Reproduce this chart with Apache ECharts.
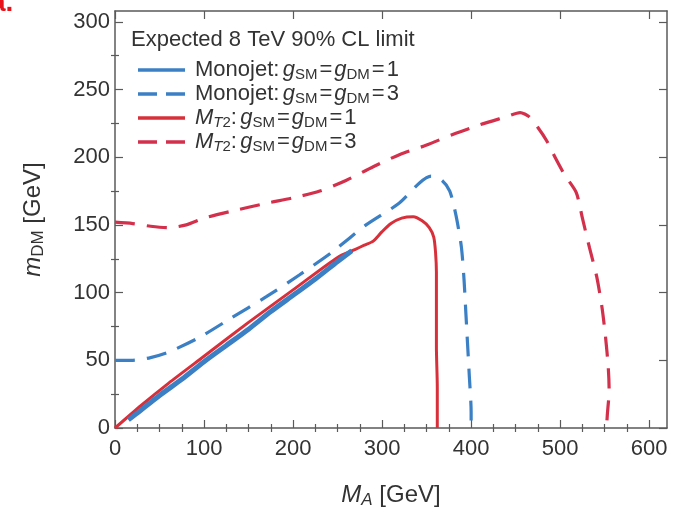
<!DOCTYPE html>
<html>
<head>
<meta charset="utf-8">
<script src="https://cdn.jsdelivr.net/npm/echarts@6/dist/echarts.min.js"></script>
<style>
html,body{margin:0;padding:0;background:#fff;}
#chart{width:676px;height:508px;}
</style>
</head>
<body>
<div id="chart"></div>
<script>
// ---- data (GeV) ----
const seriesNames = ['Monojet1', 'Monojet3', 'MT2_1', 'MT2_3'];
const seriesDashed = [false, true, false, true];
const monojet1 = [[15,6],[25,11],[50,24],[75,36],[100,49],[125,61],[150,73],[175,86],[200,98],[225,110],[250,123],[266,131]];
const monojet3 = [[0,50],[20,50],[40,52],[60,56],[95,67],[130,81],[170,97],[207,113],[244,130],[282,150],[319,166],[342,181],[355,186],[367,183],[376,175],[383,157],[389,134],[392,110],[394,86],[396,62],[398,38],[400,12],[400,0]];
const mt2_1 = [[0,0],[30,17],[60,33],[100,53],[150,78],[200,102],[250,126],[270,132],[280,135],[290,138],[300,145],[310,151],[322,155],[335,156],[345,153],[353,148],[358,141],[360,130],[361,115],[361,90],[361,60],[362,30],[362,0]];
const mt2_3 = [[0,152],[20,151],[40,149],[60,148],[80,150],[100,155],[130,160],[170,166],[200,170],[230,175],[260,183],[290,193],[320,202],[350,209],[380,217],[410,224],[440,230],[455,233],[465,230],[475,222],[485,212],[495,199],[505,187],[518,174],[525,155],[533,133],[541,112],[547,89],[551,67],[554,45],[555,28],[553,10],[552,0]];
const xMajor = [0,100,200,300,400,500,600];
const xMinor = [25,50,75,125,150,175,225,250,275,325,350,375,425,450,475,525,550,575];
const yMajor = [0,50,100,150,200,250,300];
const yMinor = [25,75,125,175,225,275];
const legendTitle = 'Expected 8 TeV 90% CL limit';
const legendLabels = {
  Monojet1: '{n|Monojet:} {i|g}{s|SM}{e|=}{i|g}{s|DM}{e|=}{n|1}',
  Monojet3: '{n|Monojet:} {i|g}{s|SM}{e|=}{i|g}{s|DM}{e|=}{n|3}',
  MT2_1: '{i|M}{si|T}{s|2}{n|:} {i|g}{s|SM}{e|=}{i|g}{s|DM}{e|=}{n|1}',
  MT2_3: '{i|M}{si|T}{s|2}{n|:} {i|g}{s|SM}{e|=}{i|g}{s|DM}{e|=}{n|3}'
};

const FONT = "'Liberation Sans', Arial, Helvetica, sans-serif";
const TXT = '#333';
const FRAME = '#5a5a5a';
const BLUE = '#3b7fc4';
const RED = '#d8303a';
const RED2 = '#d3304c';
const XMAX = 620, YMAX = 308;
const ICON_SOLID = 'path://M0,0H47V3.4H0Z';
const ICON_DASHED = 'path://M0,0H19V3.4H0ZM28,0H47V3.4H28Z';

const rich = {
  n: {fontSize: 22, fontFamily: FONT, color: TXT, lineHeight: 25, verticalAlign: 'middle'},
  i: {fontSize: 22, fontFamily: FONT, color: TXT, fontStyle: 'italic', lineHeight: 25, verticalAlign: 'middle'},
  e: {fontSize: 22, fontFamily: FONT, color: TXT, lineHeight: 25, verticalAlign: 'middle', padding: [0, 2, 0, 2]},
  s: {fontSize: 15, fontFamily: FONT, color: TXT, lineHeight: 14, verticalAlign: 'bottom'},
  si: {fontSize: 15, fontFamily: FONT, color: TXT, fontStyle: 'italic', lineHeight: 14, verticalAlign: 'bottom'}
};
const nameRich = {
  n: {fontSize: 24, fontFamily: FONT, color: TXT, lineHeight: 28, verticalAlign: 'middle'},
  i: {fontSize: 24, fontFamily: FONT, color: TXT, fontStyle: 'italic', lineHeight: 28, verticalAlign: 'middle'},
  s: {fontSize: 17, fontFamily: FONT, color: TXT, lineHeight: 16, verticalAlign: 'bottom'},
  si: {fontSize: 17, fontFamily: FONT, color: TXT, fontStyle: 'italic', lineHeight: 16, verticalAlign: 'bottom'}
};

function tickAxis(type, pos, values, len, opts) {
  return Object.assign({
    type: 'value', position: pos, min: 0, max: type === 'x' ? XMAX : YMAX,
    axisLine: {show: false},
    splitLine: {show: false},
    axisLabel: {show: false},
    axisTick: {show: true, inside: true, length: len, customValues: values, lineStyle: {color: FRAME, width: 1.2}}
  }, opts || {});
}

const xAxis = [
  {
    type: 'value', position: 'bottom', min: 0, max: XMAX,
    axisLine: {show: true, onZero: false, lineStyle: {color: FRAME, width: 1.5}},
    splitLine: {show: false},
    axisTick: {show: true, inside: true, length: 8, customValues: xMajor, lineStyle: {color: FRAME, width: 1.2}},
    axisLabel: {show: true, customValues: xMajor, margin: 10, fontSize: 22, fontFamily: FONT, color: TXT},
    name: '{i|M}{si|A}{n| [GeV]}', nameLocation: 'middle', nameGap: 53,
    nameTextStyle: {rich: nameRich}
  },
  tickAxis('x', 'bottom', xMinor, 4),
  tickAxis('x', 'top', xMajor, 8, {axisLine: {show: true, onZero: false, lineStyle: {color: FRAME, width: 1.5}}}),
  tickAxis('x', 'top', xMinor, 4)
];
const yAxis = [
  {
    type: 'value', position: 'left', min: 0, max: YMAX,
    axisLine: {show: true, onZero: false, lineStyle: {color: FRAME, width: 1.5}},
    splitLine: {show: false},
    axisTick: {show: true, inside: true, length: 8, customValues: yMajor, lineStyle: {color: FRAME, width: 1.2}},
    axisLabel: {show: true, customValues: yMajor, margin: 5, fontSize: 22, fontFamily: FONT, color: TXT},
    name: '{i|m}{s|DM}{n| [GeV]}', nameLocation: 'middle', nameGap: 68, nameRotate: 90,
    nameTextStyle: {rich: nameRich}
  },
  tickAxis('y', 'left', yMinor, 4),
  tickAxis('y', 'right', yMajor, 8, {axisLine: {show: true, onZero: false, lineStyle: {color: FRAME, width: 1.5}}}),
  tickAxis('y', 'right', yMinor, 4)
];

const chart = echarts.init(document.getElementById('chart'), null, {renderer: 'canvas'});
chart.setOption({
  animation: false,
  backgroundColor: '#ffffff',
  grid: {left: 115, right: 9, top: 11, bottom: 80, containLabel: false, outerBoundsMode: 'none'},
  title: {
    text: legendTitle, left: 131, top: 29, padding: 0,
    textStyle: {fontSize: 22, fontWeight: 'normal', fontFamily: FONT, color: TXT}
  },
  legend: {
    orient: 'vertical', left: 138, top: 59, padding: 0, itemGap: 0.5,
    itemWidth: 47, itemHeight: 3.4,
    data: seriesNames.map(function (n, k) {
      return {name: n, icon: seriesDashed[k] ? ICON_DASHED : ICON_SOLID};
    }),
    formatter: function (name) { return legendLabels[name]; },
    textStyle: {rich: rich, padding: [0, 0, 0, 5]},
    selectedMode: false
  },
  graphic: [{
    type: 'text', left: -10, top: -11,
    style: {text: 'a.', fontSize: 28, fontWeight: 'bold', fontFamily: FONT, fill: '#e8141c'}
  }],
  xAxis: xAxis,
  yAxis: yAxis,
  series: [
    {name: 'MT2_1', type: 'line', data: mt2_1, showSymbol: false, symbol: 'none', smooth: 0.25,
     lineStyle: {color: RED, width: 3}, itemStyle: {color: RED}},
    {name: 'Monojet1', type: 'line', data: monojet1, showSymbol: false, symbol: 'none', smooth: 0.25,
     lineStyle: {color: BLUE, width: 5}, itemStyle: {color: BLUE}},
    {name: 'Monojet3', type: 'line', data: monojet3, showSymbol: false, symbol: 'none', smooth: 0.25,
     lineStyle: {color: BLUE, width: 3.2, type: [20, 12]}, itemStyle: {color: BLUE}},
    {name: 'MT2_3', type: 'line', data: mt2_3, showSymbol: false, symbol: 'none', smooth: 0.25,
     lineStyle: {color: RED2, width: 3.2, type: [20, 12]}, itemStyle: {color: RED2}}
  ]
});
</script>
</body>
</html>
